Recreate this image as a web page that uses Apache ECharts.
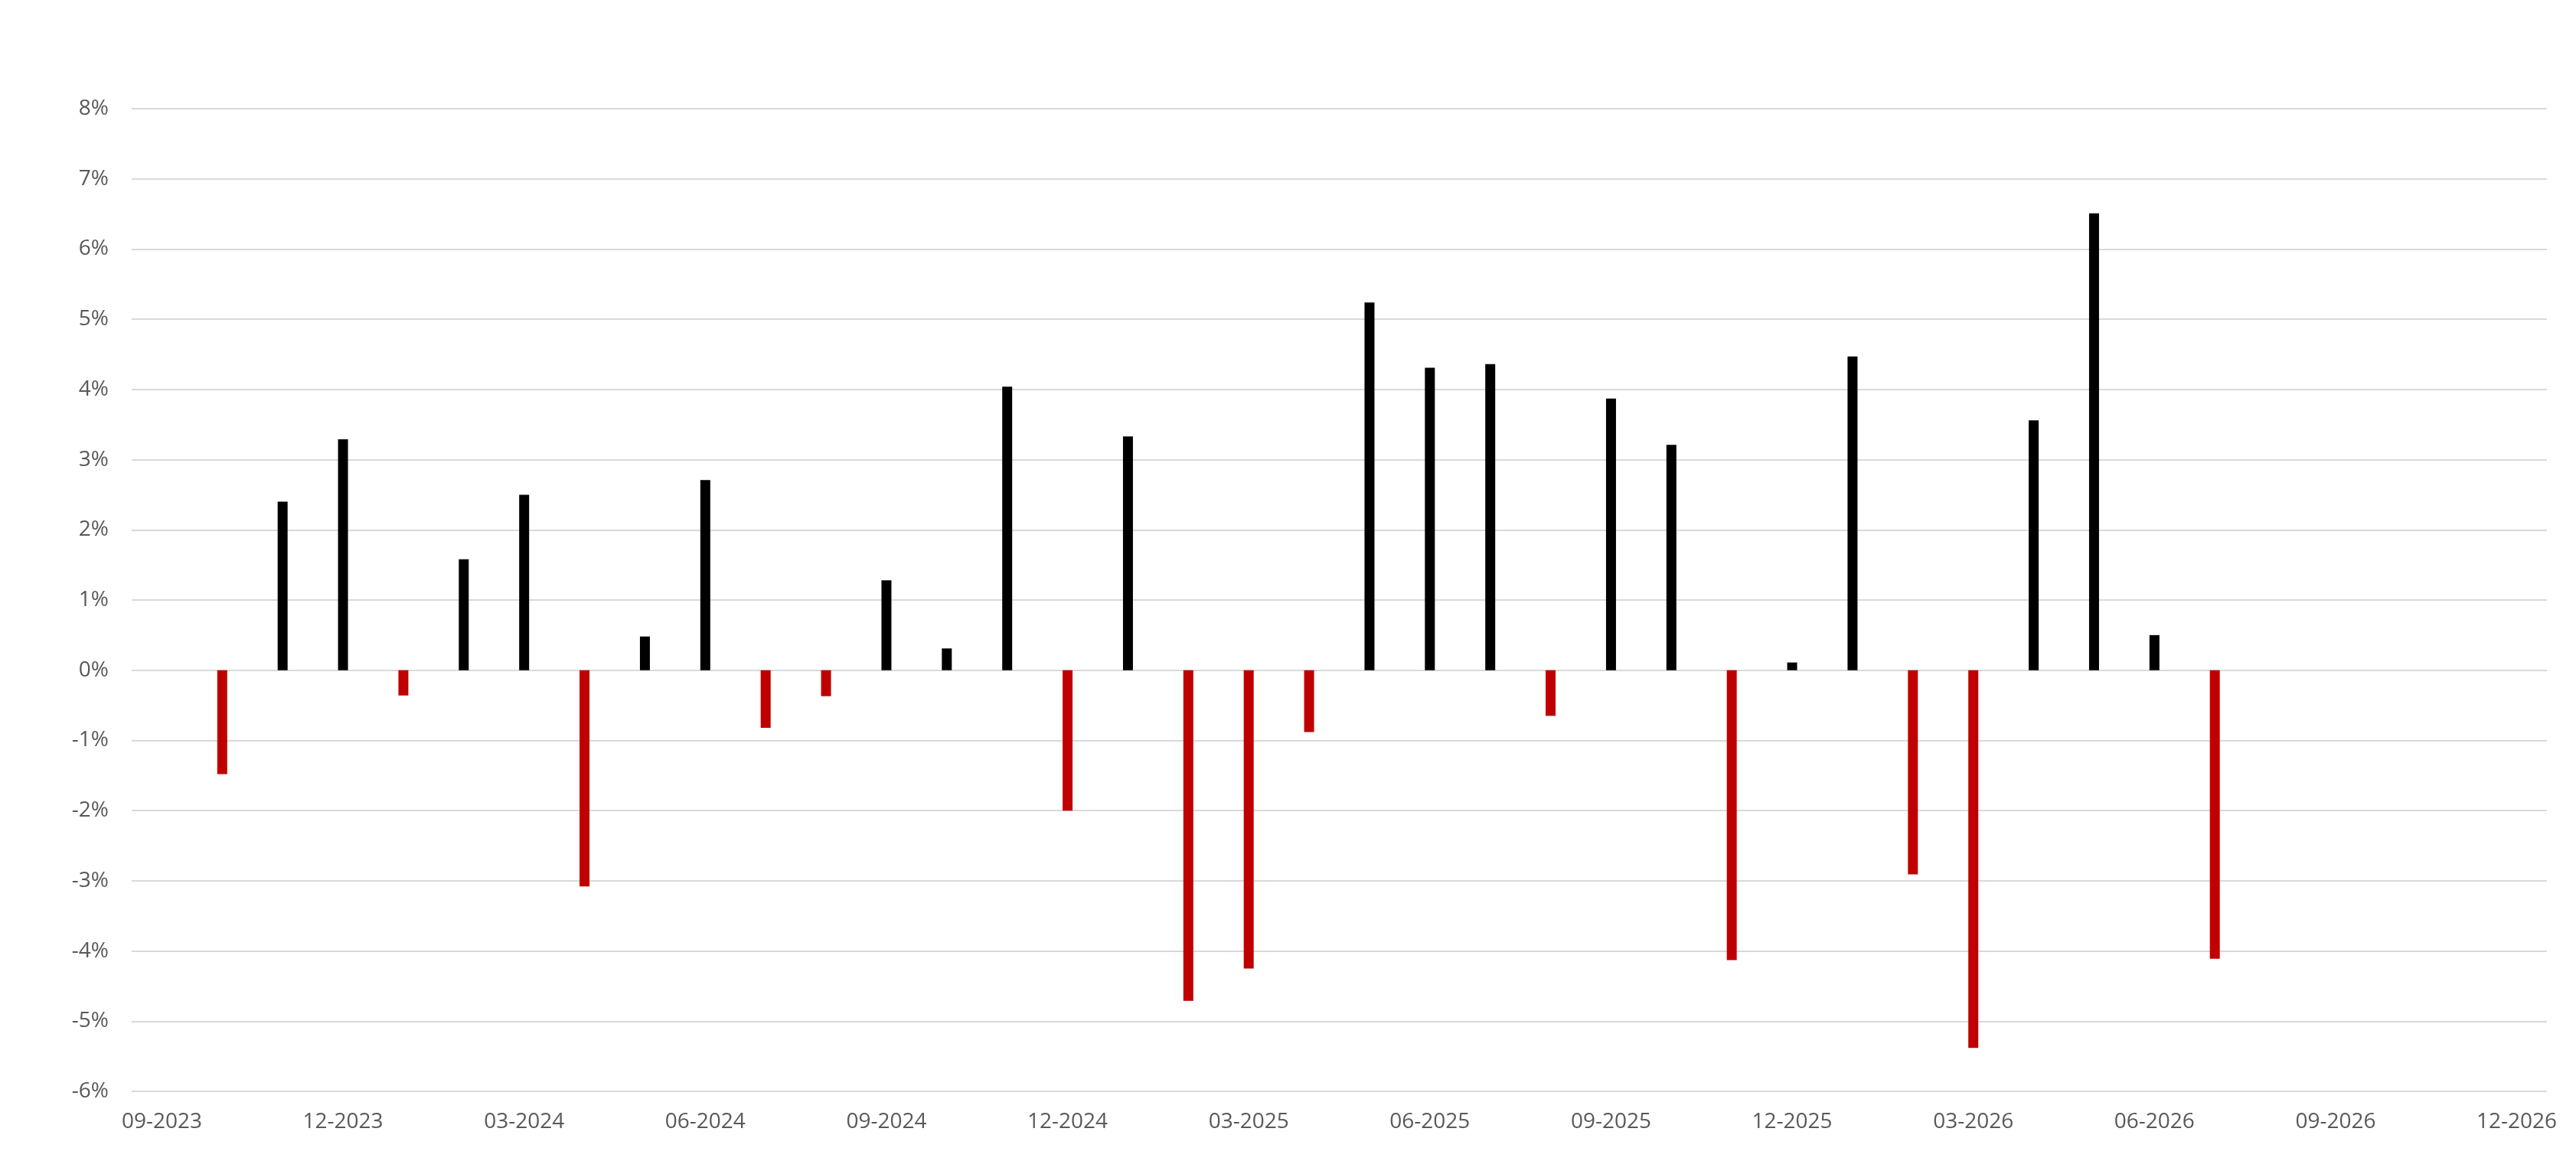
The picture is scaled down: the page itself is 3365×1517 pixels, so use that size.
<!DOCTYPE html>
<html>
<head>
<meta charset="utf-8">
<script src="https://cdn.jsdelivr.net/npm/echarts@6/dist/echarts.min.js"></script>
<style>
html,body{margin:0;padding:0;background:#fff;}
#chart{width:3365px;height:1517px;}
</style>
</head>
<body>
<div id="chart"></div>
<script>
var months = ['09-2023','10-2023','11-2023','12-2023','01-2024','02-2024','03-2024','04-2024','05-2024','06-2024','07-2024','08-2024','09-2024','10-2024','11-2024','12-2024','01-2025','02-2025','03-2025','04-2025','05-2025','06-2025','07-2025','08-2025','09-2025','10-2025','11-2025','12-2025','01-2026','02-2026','03-2026','04-2026','05-2026','06-2026','07-2026','08-2026','09-2026','10-2026','11-2026','12-2026'];
var returns = [null,-1.48,2.40,3.29,-0.36,1.58,2.50,-3.08,0.48,2.71,-0.82,-0.37,1.28,0.31,4.04,-2.00,3.33,-4.71,-4.25,-0.88,5.24,4.31,4.36,-0.65,3.87,3.21,-4.13,0.11,4.47,-2.91,-5.38,3.56,6.51,0.50,-4.11,null,null,null,null,null];
var positiveColor = '#000000';
var negativeColor = '#c00000';

var chart = echarts.init(document.getElementById('chart'));
chart.setOption({
  animation: false,
  backgroundColor: '#ffffff',
  grid: {left: 172, right: 38, top: 142, bottom: 91, containLabel: false},
  xAxis: {
    type: 'category',
    data: months,
    boundaryGap: true,
    axisLine: {show: false},
    axisTick: {show: false},
    axisLabel: {interval: 2, color: '#595959', fontFamily: 'Open Sans', fontSize: 28, margin: 26}
  },
  yAxis: {
    type: 'value',
    min: -6, max: 8, interval: 1,
    axisLine: {show: false},
    axisTick: {show: false},
    splitLine: {lineStyle: {color: '#d9d9d9', width: 2}},
    axisLabel: {formatter: '{value}%', color: '#595959', fontFamily: 'Open Sans', fontSize: 28, margin: 30}
  },
  series: [{
    type: 'bar',
    data: returns,
    barWidth: 13,
    itemStyle: {
      color: function (p) { return p.value >= 0 ? positiveColor : negativeColor; }
    }
  }]
});
</script>
</body>
</html>
